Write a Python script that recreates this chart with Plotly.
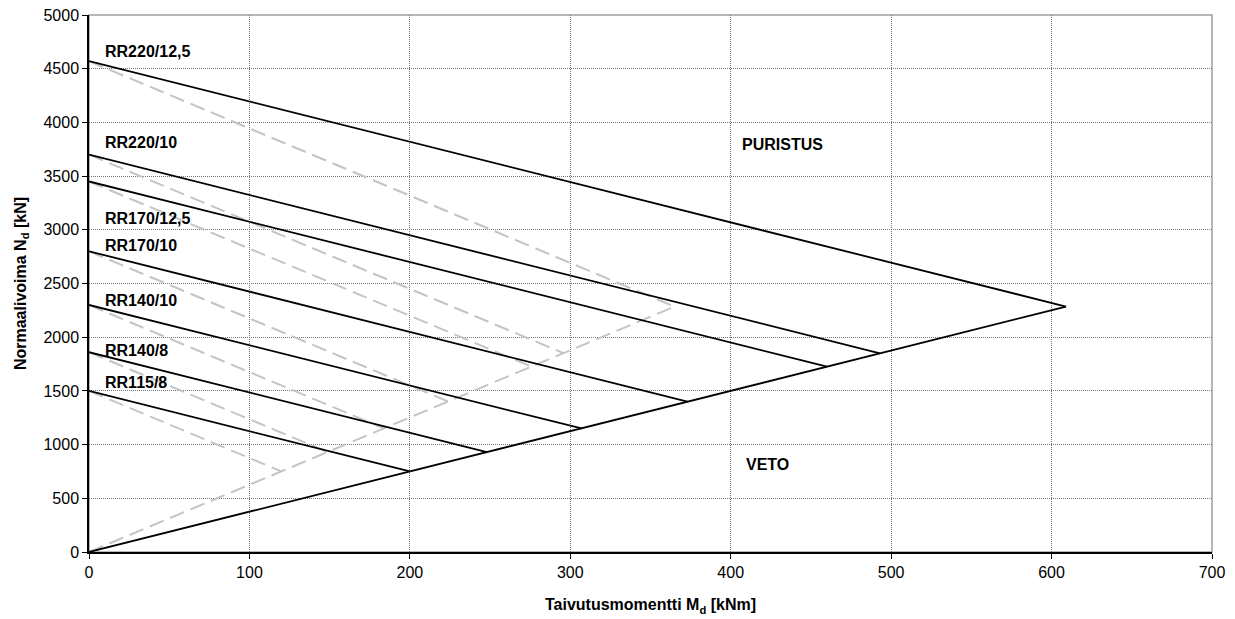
import plotly.graph_objects as go

# Profile sections and their interaction-line values
profiles = ["RR220/12,5", "RR220/10", "RR170/12,5", "RR170/10", "RR140/10", "RR140/8", "RR115/8"]
n_axial = [4570, 3700, 3450, 2800, 2300, 1860, 1500]          # N_d at M_d = 0 [kN]
m_solid_end = [609, 493, 460, 373, 307, 248, 200]             # M_d at end of solid line [kNm]
m_dashed_end = [365, 296, 276, 224, 184, 149, 120]            # M_d at end of dashed line [kNm]
label_n = [4656, 3809, 3101, 2850, 2341, 1876, 1578]          # label heights [kN]

# Tension boundary lines from origin
boundary_m = [0, 609]
boundary_n = [0, 2285]
boundary_dash_m = [0, 365]
boundary_dash_n = [0, 2285]

FONT = "Liberation Sans, Arial, sans-serif"
DASH = dict(color="#c4c4c4", width=2, dash="15px,7px")
SOLID = dict(color="black", width=1.8)

fig = go.Figure()

for n0, md in zip(n_axial, m_dashed_end):
    fig.add_trace(go.Scatter(x=[0, md], y=[n0, n0 / 2], mode="lines",
                             line=DASH, showlegend=False, hoverinfo="skip"))

fig.add_trace(go.Scatter(x=boundary_dash_m, y=boundary_dash_n, mode="lines",
                         line=DASH, showlegend=False, hoverinfo="skip"))

for name, n0, ms in zip(profiles, n_axial, m_solid_end):
    fig.add_trace(go.Scatter(x=[0, ms], y=[n0, n0 / 2], mode="lines", name=name,
                             line=SOLID, showlegend=False))

fig.add_trace(go.Scatter(x=boundary_m, y=boundary_n, mode="lines",
                         line=SOLID, showlegend=False))

font_lbl = dict(family=FONT, size=16, color="black")

for name, ly in zip(profiles, label_n):
    fig.add_annotation(x=9, y=ly, text="<b>%s</b>" % name, showarrow=False,
                       xanchor="left", yanchor="middle", font=font_lbl)

fig.add_annotation(x=406, y=3790, text="<b>PURISTUS</b>", showarrow=False,
                   xanchor="left", yanchor="middle", font=font_lbl)
fig.add_annotation(x=408, y=812, text="<b>VETO</b>", showarrow=False,
                   xanchor="left", yanchor="middle", font=font_lbl)

# Plot frame: grey top/right edges
fig.add_shape(type="rect", xref="paper", yref="paper", x0=0, y0=0, x1=1, y1=1,
              line=dict(color="#a0a0a0", width=1.5), layer="below")

axis_common = dict(
    showgrid=True, gridcolor="#777777", griddash="1px,1px", gridwidth=1,
    showline=True, linecolor="black", linewidth=1.5,
    ticks="outside", ticklen=5, tickcolor="black", tickwidth=1,
    zeroline=False, automargin=False,
    tickfont=dict(family=FONT, size=16, color="black"),
)

title_font = dict(family=FONT, size=16, color="black")

fig.update_xaxes(range=[0, 700], dtick=100, tick0=0,
                 title=dict(text="<b>Taivutusmomentti M<sub>d</sub> [kNm]</b>",
                            font=title_font, standoff=19),
                 **axis_common)
fig.update_yaxes(range=[0, 5000], dtick=500, tick0=0,
                 title=dict(text="<b>Normaalivoima N<sub>d</sub> [kN]</b>",
                            font=title_font, standoff=13),
                 **axis_common)

fig.update_layout(
    width=1235, height=619,
    margin=dict(l=89, r=23, t=15, b=67),
    plot_bgcolor="white", paper_bgcolor="white",
    font=dict(family=FONT, color="black"),
)

fig.write_html("out.html")
